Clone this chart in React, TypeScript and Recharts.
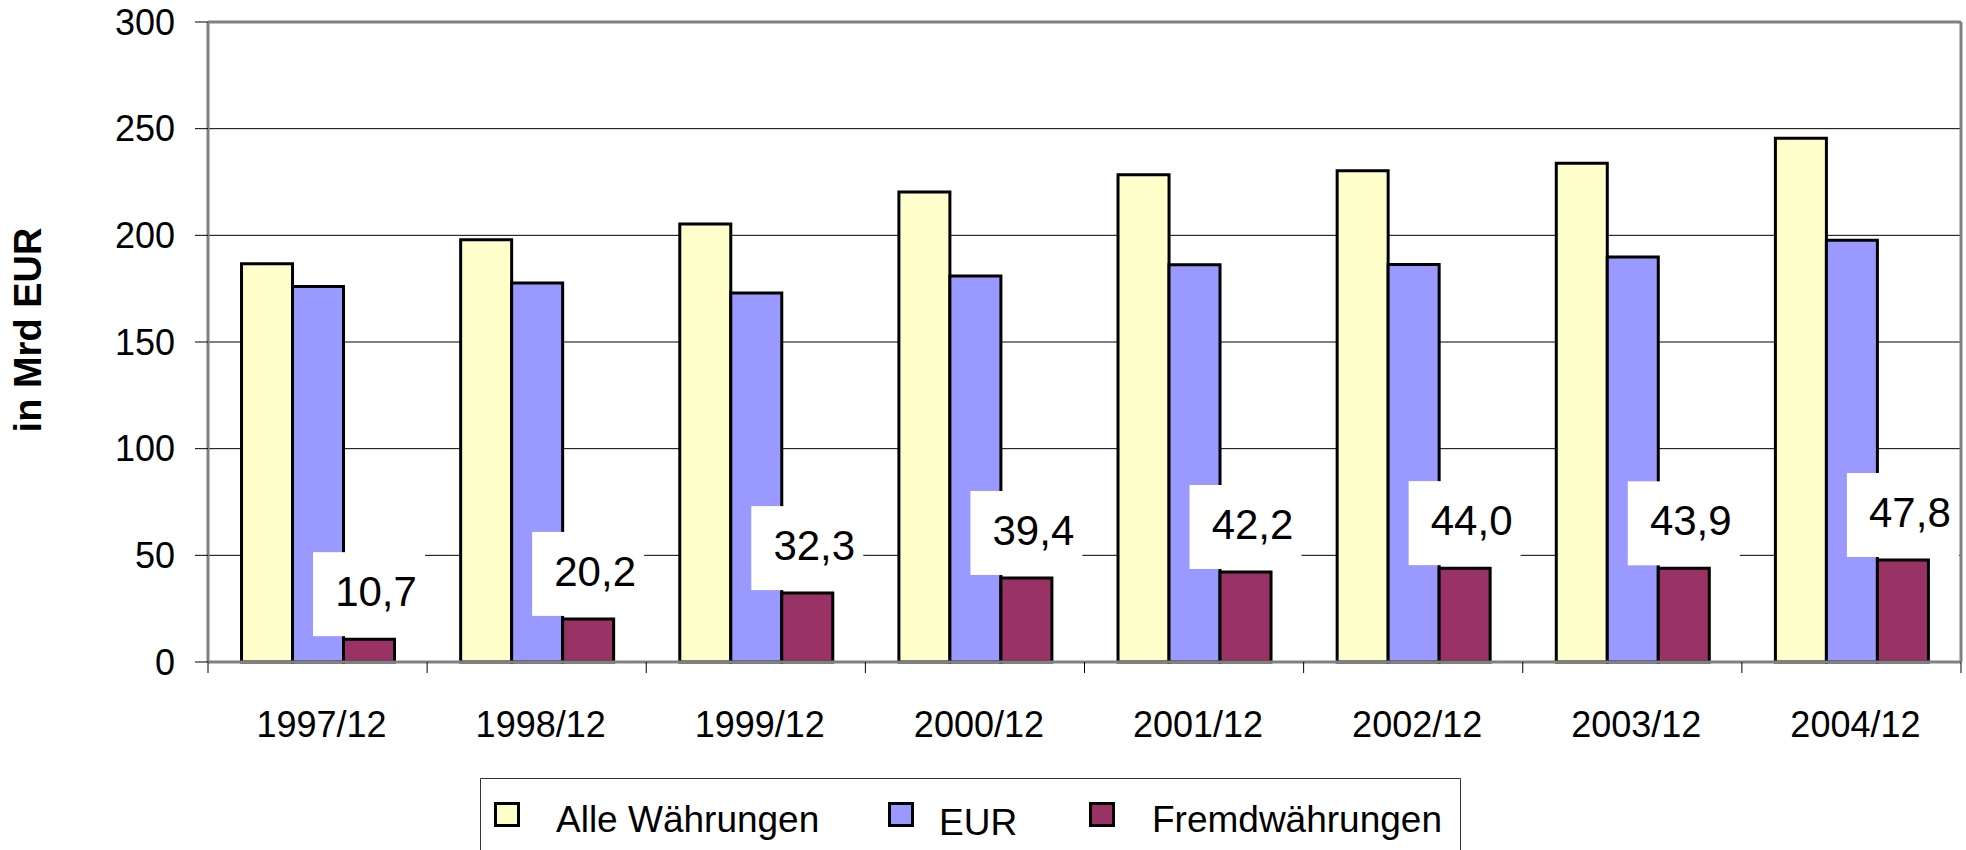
import { BarChart, Bar, XAxis, YAxis, CartesianGrid, Legend, LabelList, ReferenceLine, Label } from 'recharts';

const MONATE = ['1997/12', '1998/12', '1999/12', '2000/12', '2001/12', '2002/12', '2003/12', '2004/12'];
const ALLE = [186.7, 197.9, 205.3, 220.3, 228.4, 230.3, 233.8, 245.5];
const EUR = [176.0, 177.7, 173.0, 180.9, 186.2, 186.3, 189.9, 197.7];
const FREMD = [10.7, 20.2, 32.3, 39.4, 42.2, 44.0, 43.9, 47.8];
const Y_TICKS = [0, 50, 100, 150, 200, 250, 300];

const data = MONATE.map((m, i) => ({
  monat: m,
  alle: ALLE[i],
  eur: EUR[i],
  fremd: FREMD[i],
}));

const FONT = '"Liberation Sans", Arial, sans-serif';
const GRAU = '#808080';

const fmt = (v: number) => v.toFixed(1).replace('.', ',');

function FremdLabel(props: any) {
  const { x, y, width, value } = props;
  const cx = Number(x) + Number(width) / 2;
  const top = Number(y);
  return (
    <g>
      <rect x={cx - 56} y={top - 87} width={112} height={84} fill="#fff" />
      <text x={cx + 7} y={top - 33} textAnchor="middle" fontSize={42} fontFamily={FONT} fill="#000">
        {fmt(Number(value))}
      </text>
    </g>
  );
}

function MonatTick(props: any) {
  const { x, y, payload, index, visibleTicksCount } = props;
  const half = payload?.offset ?? (1753 / MONATE.length) / 2;
  const last = index === (visibleTicksCount ?? MONATE.length) - 1;
  return (
    <g>
      <line x1={x - half} x2={x - half} y1={y} y2={y + 11} stroke="#000" />
      {last && <line x1={x + half} x2={x + half} y1={y} y2={y + 11} stroke="#000" />}
      <text x={x + 4} y={y + 75} textAnchor="middle" fontSize={36} fontFamily={FONT} fill="#000">
        {payload.value}
      </text>
    </g>
  );
}

// Slots der Legendeneinträge: Marker-x, Text-x
const LEGEND_SLOTS = [
  { mx: 14, tx: 76, ty: 54 },
  { mx: 408, tx: 459, ty: 57 },
  { mx: 609, tx: 672, ty: 54 },
];

function LegendBox(props: any) {
  const payload = props.payload || [];
  return (
    <svg width={981} height={72} style={{ display: 'block' }}>
      <path d="M0.5,72 L0.5,0.5 L980.5,0.5 L980.5,72" fill="none" stroke="#333" strokeWidth={1} />
      {payload.map((p: any, i: number) => {
        const s = LEGEND_SLOTS[i];
        if (!s) return null;
        return (
          <g key={p.value}>
            <rect x={s.mx + 1.5} y={25.5} width={23} height={22} fill={p.color} stroke="#000" strokeWidth={3} />
            <text x={s.tx} y={s.ty} fontSize={37} fontFamily={FONT} fill="#000">
              {p.value}
            </text>
          </g>
        );
      })}
    </svg>
  );
}

export default function App() {
  return (
    <div style={{ position: 'absolute', left: 0, top: 0, background: '#fff' }}>
      <BarChart
        width={1966}
        height={850}
        data={data}
        margin={{ top: 22, right: 0, bottom: 0, left: 0 }}
        barCategoryGap="15.3%"
        barGap={0}
      >
        <CartesianGrid yAxisId="l" vertical={false} stroke="#000" strokeWidth={1} />
        <XAxis
          dataKey="monat"
          height={188}
          tickSize={0}
          tickMargin={0}
          tickLine={false}
          axisLine={{ stroke: GRAU, strokeWidth: 3 }}
          tick={<MonatTick />}
          interval={0}
        />
        <YAxis
          yAxisId="l"
          width={208}
          domain={[0, 300]}
          ticks={Y_TICKS}
          tickSize={13}
          tickMargin={20}
          tickLine={{ stroke: '#000' }}
          axisLine={{ stroke: GRAU, strokeWidth: 3 }}
          tick={{ fontSize: 36, fontFamily: FONT, fill: '#000' }}
        >
          <Label
            content={(lp: any) => {
              const vb = lp.viewBox || { x: 0, y: 22, height: 640 };
              const cx = vb.x + 41;
              const cy = vb.y + vb.height / 2 - 12;
              return (
                <text
                  x={cx}
                  y={cy}
                  transform={`rotate(-90 ${cx} ${cy})`}
                  textAnchor="middle"
                  fontSize={38}
                  fontWeight="bold"
                  fontFamily={FONT}
                  fill="#000"
                >
                  in Mrd EUR
                </text>
              );
            }}
          />
        </YAxis>
        <YAxis
          yAxisId="r"
          orientation="right"
          width={5}
          domain={[0, 300]}
          tick={false}
          tickLine={false}
          axisLine={{ stroke: GRAU, strokeWidth: 3 }}
        />
        <ReferenceLine yAxisId="l" y={300} stroke={GRAU} strokeWidth={3} />
        <Legend
          layout="vertical"
          align="center"
          verticalAlign="middle"
          wrapperStyle={{ left: 480, top: 778, width: 981, height: 72 }}
          content={<LegendBox />}
        />
        <Bar yAxisId="l" dataKey="alle" name="Alle Währungen" fill="#FFFFCC" stroke="#000" strokeWidth={3} isAnimationActive={false} />
        <Bar yAxisId="l" dataKey="eur" name="EUR" fill="#9999FF" stroke="#000" strokeWidth={3} isAnimationActive={false} />
        <Bar yAxisId="l" dataKey="fremd" name="Fremdwährungen" fill="#993366" stroke="#000" strokeWidth={3} isAnimationActive={false}>
          <LabelList dataKey="fremd" content={<FremdLabel />} />
        </Bar>
      </BarChart>
    </div>
  );
}
